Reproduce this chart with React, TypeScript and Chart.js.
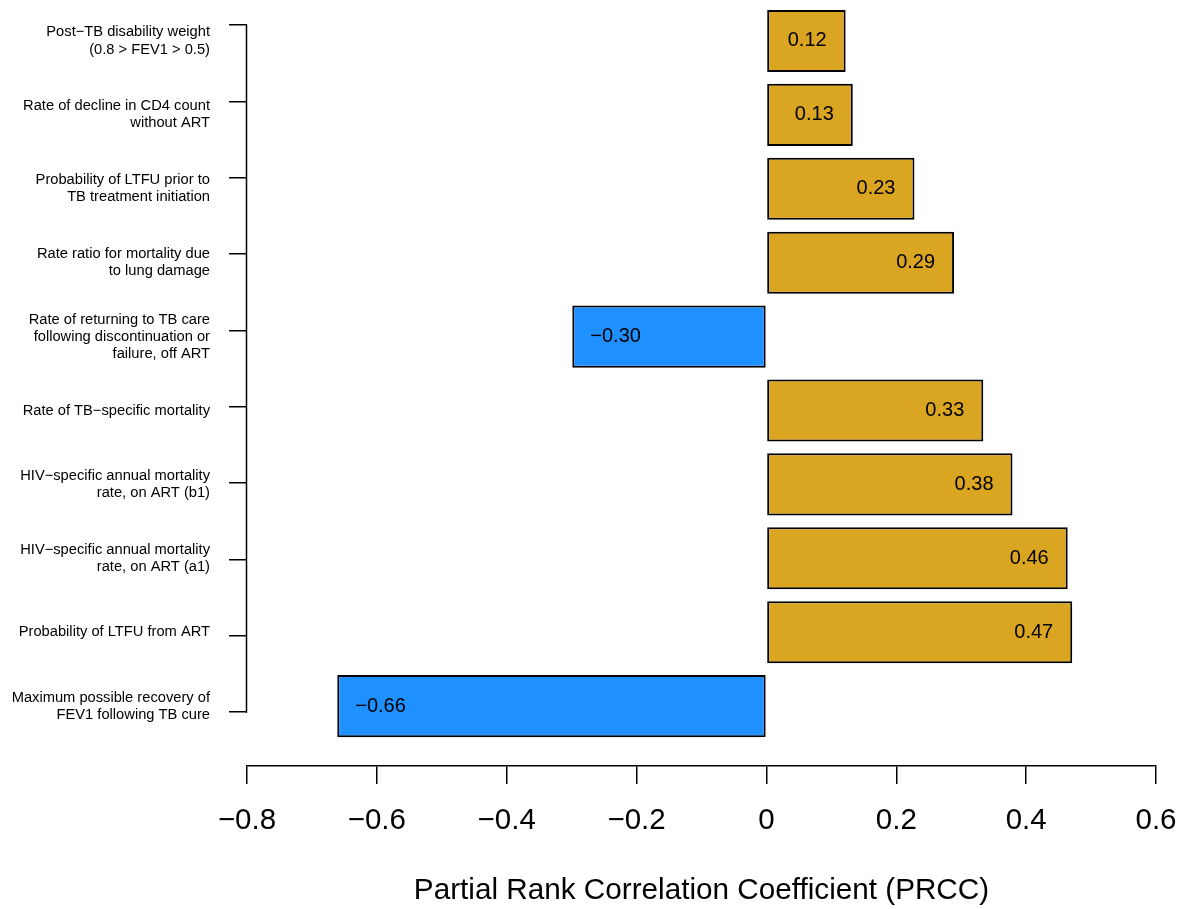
import React, { useEffect, useRef } from "react";
import { Chart, registerables } from "chart.js";

Chart.register(...registerables);

const FONT = "'Liberation Sans', Arial, Helvetica, sans-serif";

// Parameters, listed top to bottom
const categories: string[][] = [
  ["Post\u2212TB disability weight", "(0.8 > FEV1 > 0.5)"],
  ["Rate of decline in CD4 count", "without ART"],
  ["Probability of LTFU prior to", "TB treatment initiation"],
  ["Rate ratio for mortality due", "to lung damage"],
  ["Rate of returning to TB care", "following discontinuation or", "failure, off ART"],
  ["Rate of TB\u2212specific mortality"],
  ["HIV\u2212specific annual mortality", "rate, on ART (b1)"],
  ["HIV\u2212specific annual mortality", "rate, on ART (a1)"],
  ["Probability of LTFU from ART"],
  ["Maximum possible recovery of", "FEV1 following TB cure"],
];

const prccValues: number[] = [0.122, 0.133, 0.228, 0.289, -0.299, 0.334, 0.379, 0.464, 0.471, -0.661];

const valueLabels: string[] = ["0.12", "0.13", "0.23", "0.29", "\u22120.30", "0.33", "0.38", "0.46", "0.47", "\u22120.66"];

const xTickValues: number[] = [-0.8, -0.6, -0.4, -0.2, 0, 0.2, 0.4, 0.6];
const xTickLabels: string[] = ["\u22120.8", "\u22120.6", "\u22120.4", "\u22120.2", "0", "0.2", "0.4", "0.6"];

const xTitle = "Partial Rank Correlation Coefficient (PRCC)";

const POS_COLOR = "#DAA520";
const NEG_COLOR = "#1E90FF";

const overlayPlugin = {
  id: "overlay",
  afterDraw(chart: any) {
    const ctx = chart.ctx;
    const tickScale = chart.scales.yTick;
    const n = categories.length;
    ctx.save();
    // vertical axis line spanning first to last tick
    ctx.strokeStyle = "#000";
    ctx.lineWidth = 1.5;
    ctx.beginPath();
    const x = tickScale.right - 0.5;
    ctx.moveTo(x, tickScale.getPixelForValue(0) - 0.75);
    ctx.lineTo(x, tickScale.getPixelForValue(n - 1) + 0.75);
    ctx.stroke();
    // value labels inside bars
    const meta = chart.getDatasetMeta(0);
    ctx.font = `20px ${FONT}`;
    ctx.fillStyle = "#000";
    ctx.textBaseline = "middle";
    meta.data.forEach((bar: any, i: number) => {
      const v = prccValues[i];
      if (v >= 0) {
        ctx.textAlign = "right";
        ctx.fillText(valueLabels[i], bar.x - 19, bar.y);
      } else {
        ctx.textAlign = "left";
        ctx.fillText(valueLabels[i], bar.x + 18, bar.y);
      }
    });
    ctx.restore();
  },
};

export default function App() {
  const canvasRef = useRef<HTMLCanvasElement | null>(null);

  useEffect(() => {
    if (!canvasRef.current) return;
    Chart.defaults.font.family = FONT;
    Chart.defaults.color = "#000";
    const chart = new Chart(canvasRef.current, {
      type: "bar",
      data: {
        datasets: [
          {
            data: prccValues.map((v, i) => ({ x: v, y: i })),
            backgroundColor: (c: any) => (prccValues[c.dataIndex] >= 0 ? POS_COLOR : NEG_COLOR),
            borderColor: "#000",
            borderWidth: 2,
            borderSkipped: false,
            categoryPercentage: 1,
            barPercentage: 0.84,
          } as any,
        ],
      },
      options: {
        indexAxis: "y",
        animation: false,
        responsive: false,
        maintainAspectRatio: false,
        layout: { padding: { left: 0, right: 29, top: 4, bottom: 0 } },
        plugins: {
          legend: { display: false },
          tooltip: { enabled: false },
        },
        scales: {
          x: {
            type: "linear",
            min: -0.8,
            max: 0.6,
            afterBuildTicks: (axis: any) => {
              axis.ticks = xTickValues.map((v) => ({ value: v }));
            },
            ticks: {
              callback: (_v: any, i: number) => xTickLabels[i],
              font: { size: 29.5, family: FONT },
              color: "#000",
              padding: 19,
              maxRotation: 0,
              autoSkip: false,
            },
            grid: { drawOnChartArea: false, drawTicks: true, tickLength: 18, color: "#000", lineWidth: 1.5 },
            border: { display: true, color: "#000", width: 1.5 },
            title: {
              display: true,
              text: xTitle,
              color: "#000",
              font: { size: 29.7, family: FONT },
              padding: { top: 0, bottom: 0 },
            },
            afterFit: (axis: any) => {
              axis.height = 143;
              axis.paddingLeft = 0;
              axis.paddingRight = 0;
            },
          },
          y: {
            type: "linear",
            position: "left",
            reverse: true,
            offset: false,
            min: -0.5,
            max: 9.81,
            weight: 1,
            afterBuildTicks: (axis: any) => {
              axis.ticks = categories.map((_c, i) => ({ value: i }));
            },
            ticks: {
              callback: (v: any) => categories[v],
              font: { size: 14.7, family: FONT, lineHeight: 1.16 },
              color: "#000",
              padding: 19,
              autoSkip: false,
            },
            grid: { display: false, drawTicks: false, offset: false },
            border: { display: false },
            afterFit: (axis: any) => {
              axis.width = 229;
              axis.paddingTop = 0;
              axis.paddingBottom = 0;
            },
          },
          yTick: {
            type: "linear",
            position: "left",
            reverse: true,
            offset: false,
            min: -0.2745,
            max: 9.708,
            weight: 0,
            afterBuildTicks: (axis: any) => {
              axis.ticks = categories.map((_c, i) => ({ value: i }));
            },
            ticks: { display: false },
            grid: { drawOnChartArea: false, drawTicks: true, tickLength: 18, color: "#000", lineWidth: 1.5, offset: false },
            border: { display: false },
            afterFit: (axis: any) => {
              axis.width = 18;
              axis.paddingTop = 0;
              axis.paddingBottom = 0;
            },
          },
        } as any,
      },
      plugins: [overlayPlugin],
    });
    return () => chart.destroy();
  }, []);

  return (
    <div style={{ position: "absolute", left: 0, top: 0, width: 1185, height: 909, background: "#fff" }}>
      <canvas ref={canvasRef} width={1185} height={909} style={{ display: "block" }} />
    </div>
  );
}
